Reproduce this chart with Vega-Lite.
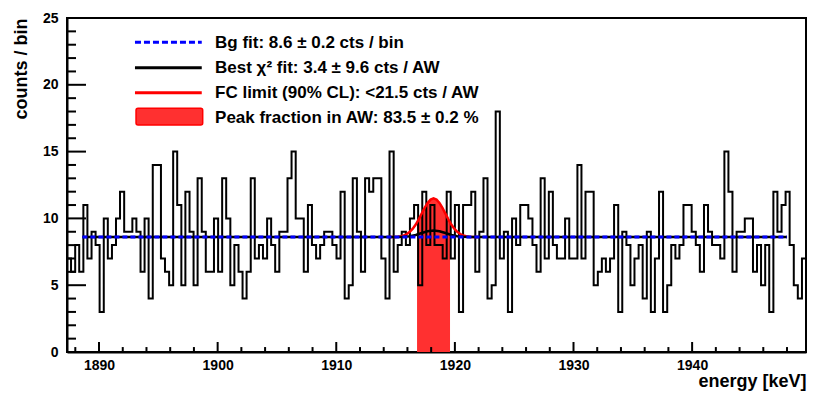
{
  "$schema": "https://vega.github.io/schema/vega-lite/v6.json",
  "width": 739,
  "height": 334,
  "autosize": {"type": "none"},
  "padding": {"left": 67, "top": 18, "right": 16, "bottom": 41},
  "background": "white",
  "config": {
    "view": {"stroke": "black", "strokeWidth": 2},
    "font": "Liberation Sans",
    "axis": {
      "grid": false,
      "domainColor": "black",
      "domainWidth": 2,
      "labelFont": "Liberation Sans",
      "labelFontWeight": "bold",
      "labelFontSize": 14,
      "labelColor": "black",
      "labelOverlap": false,
      "labelFlush": false,
      "titleFont": "Liberation Sans",
      "titleFontWeight": "bold",
      "titleFontSize": 18,
      "titleColor": "black"
    },
    "text": {"font": "Liberation Sans", "fontWeight": "bold", "fontSize": 17, "align": "left", "baseline": "alphabetic", "color": "black"}
  },
  "resolve": {"axis": {"x": "independent", "y": "independent"}},
  "datasets": {
    "hist": [
      {"e":1887.30,"c":7},{"e":1887.64,"c":6},{"e":1887.99,"c":8},{"e":1888.33,"c":6},{"e":1888.68,"c":11},{"e":1889.02,"c":7},{"e":1889.37,"c":9},{"e":1889.71,"c":8},{"e":1890.05,"c":3},{"e":1890.40,"c":10},{"e":1890.74,"c":7},{"e":1891.09,"c":8},{"e":1891.43,"c":10},{"e":1891.77,"c":12},{"e":1892.12,"c":9},{"e":1892.46,"c":9},{"e":1892.81,"c":10},{"e":1893.15,"c":9},
      {"e":1893.50,"c":6},{"e":1893.84,"c":10},{"e":1894.18,"c":4},{"e":1894.53,"c":14},{"e":1894.87,"c":14},{"e":1895.22,"c":7},{"e":1895.56,"c":6},{"e":1895.91,"c":5},{"e":1896.25,"c":15},{"e":1896.59,"c":11},{"e":1896.94,"c":5},{"e":1897.28,"c":12},{"e":1897.63,"c":9},{"e":1897.97,"c":5},{"e":1898.31,"c":13},{"e":1898.66,"c":9},{"e":1899.00,"c":6},{"e":1899.35,"c":6},
      {"e":1899.69,"c":10},{"e":1900.04,"c":6},{"e":1900.38,"c":13},{"e":1900.72,"c":10},{"e":1901.07,"c":5},{"e":1901.41,"c":8},{"e":1901.76,"c":6},{"e":1902.10,"c":4},{"e":1902.44,"c":6},{"e":1902.79,"c":13},{"e":1903.13,"c":7},{"e":1903.48,"c":8},{"e":1903.82,"c":7},{"e":1904.17,"c":10},{"e":1904.51,"c":8},{"e":1904.85,"c":6},{"e":1905.20,"c":9},{"e":1905.54,"c":9},
      {"e":1905.89,"c":13},{"e":1906.23,"c":15},{"e":1906.58,"c":10},{"e":1906.92,"c":10},{"e":1907.26,"c":6},{"e":1907.61,"c":11},{"e":1907.95,"c":8},{"e":1908.30,"c":7},{"e":1908.64,"c":8},{"e":1908.98,"c":9},{"e":1909.33,"c":9},{"e":1909.67,"c":8},{"e":1910.02,"c":7},{"e":1910.36,"c":12},{"e":1910.71,"c":4},{"e":1911.05,"c":5},{"e":1911.39,"c":13},{"e":1911.74,"c":9},
      {"e":1912.08,"c":6},{"e":1912.43,"c":13},{"e":1912.77,"c":12},{"e":1913.12,"c":13},{"e":1913.46,"c":13},{"e":1913.80,"c":7},{"e":1914.15,"c":4},{"e":1914.49,"c":15},{"e":1914.84,"c":6},{"e":1915.18,"c":8},{"e":1915.52,"c":9},{"e":1915.87,"c":8},{"e":1916.21,"c":10},{"e":1916.56,"c":11},{"e":1916.90,"c":5},{"e":1917.25,"c":12},{"e":1917.59,"c":8},{"e":1917.93,"c":11},{"e":1918.28,"c":8},
      {"e":1918.62,"c":8},{"e":1918.97,"c":7},{"e":1919.31,"c":12},{"e":1919.65,"c":7},{"e":1920.00,"c":11},{"e":1920.34,"c":3},{"e":1920.69,"c":11},{"e":1921.03,"c":11},{"e":1921.38,"c":12},{"e":1921.72,"c":6},{"e":1922.06,"c":9},{"e":1922.41,"c":13},{"e":1922.75,"c":4},{"e":1923.10,"c":5},{"e":1923.44,"c":18},{"e":1923.79,"c":7},{"e":1924.13,"c":9},{"e":1924.47,"c":3},
      {"e":1924.82,"c":10},{"e":1925.16,"c":8},{"e":1925.51,"c":11},{"e":1925.85,"c":11},{"e":1926.19,"c":10},{"e":1926.54,"c":8},{"e":1926.88,"c":6},{"e":1927.23,"c":13},{"e":1927.57,"c":7},{"e":1927.92,"c":12},{"e":1928.26,"c":8},{"e":1928.60,"c":7},{"e":1928.95,"c":7},{"e":1929.29,"c":10},{"e":1929.64,"c":7},{"e":1929.98,"c":7},{"e":1930.33,"c":14},{"e":1930.67,"c":7},
      {"e":1931.01,"c":12},{"e":1931.36,"c":12},{"e":1931.70,"c":5},{"e":1932.05,"c":6},{"e":1932.39,"c":7},{"e":1932.73,"c":6},{"e":1933.08,"c":7},{"e":1933.42,"c":11},{"e":1933.77,"c":3},{"e":1934.11,"c":9},{"e":1934.46,"c":8},{"e":1934.80,"c":5},{"e":1935.14,"c":7},{"e":1935.49,"c":8},{"e":1935.83,"c":4},{"e":1936.18,"c":9},{"e":1936.52,"c":3},{"e":1936.86,"c":7},
      {"e":1937.21,"c":12},{"e":1937.55,"c":3},{"e":1937.90,"c":5},{"e":1938.24,"c":8},{"e":1938.59,"c":7},{"e":1938.93,"c":8},{"e":1939.27,"c":11},{"e":1939.62,"c":11},{"e":1939.96,"c":9},{"e":1940.31,"c":8},{"e":1940.65,"c":6},{"e":1941.00,"c":11},{"e":1941.34,"c":9},{"e":1941.68,"c":8},{"e":1942.03,"c":8},{"e":1942.37,"c":7},{"e":1942.72,"c":15},{"e":1943.06,"c":12},{"e":1943.40,"c":6},
      {"e":1943.75,"c":9},{"e":1944.09,"c":9},{"e":1944.44,"c":10},{"e":1944.78,"c":10},{"e":1945.13,"c":6},{"e":1945.47,"c":8},{"e":1945.81,"c":5},{"e":1946.16,"c":8},{"e":1946.50,"c":3},{"e":1946.85,"c":12},{"e":1947.19,"c":9},{"e":1947.54,"c":11},{"e":1947.88,"c":12},{"e":1948.22,"c":8},{"e":1948.57,"c":5},{"e":1948.91,"c":4},{"e":1949.26,"c":7},{"e":1949.60,"c":7}
    ],
    "fc": [
      {"e":1914.45,"c":8.603},{"e":1914.70,"c":8.606},{"e":1914.95,"c":8.615},{"e":1915.20,"c":8.632},{"e":1915.45,"c":8.666},{"e":1915.70,"c":8.727},{"e":1915.95,"c":8.831},{"e":1916.20,"c":8.992},{"e":1916.45,"c":9.227},{"e":1916.70,"c":9.542},{"e":1916.95,"c":9.928},{"e":1917.20,"c":10.359},{"e":1917.45,"c":10.789},{"e":1917.70,"c":11.159},{"e":1917.95,"c":11.411},{"e":1918.20,"c":11.5},{"e":1918.45,"c":11.411},{"e":1918.70,"c":11.159},{"e":1918.95,"c":10.789},{"e":1919.20,"c":10.359},{"e":1919.45,"c":9.928},{"e":1919.70,"c":9.542},{"e":1919.95,"c":9.227},{"e":1920.20,"c":8.992},{"e":1920.45,"c":8.831},{"e":1920.70,"c":8.727},{"e":1920.95,"c":8.666},{"e":1921.20,"c":8.632},{"e":1921.45,"c":8.615},{"e":1921.70,"c":8.606},{"e":1921.95,"c":8.603}
    ],
    "aw": [
      {"e":1916.81,"c":9.70},{"e":1916.95,"c":9.928},{"e":1917.20,"c":10.359},{"e":1917.45,"c":10.789},{"e":1917.70,"c":11.159},{"e":1917.95,"c":11.411},{"e":1918.20,"c":11.5},{"e":1918.45,"c":11.411},{"e":1918.70,"c":11.159},{"e":1918.95,"c":10.789},{"e":1919.20,"c":10.359},{"e":1919.45,"c":9.928},{"e":1919.59,"c":9.70}
    ],
    "best": [
      {"e":1888.60,"c":8.6},{"e":1914.70,"c":8.6},{"e":1915.20,"c":8.606},{"e":1915.70,"c":8.622},{"e":1916.20,"c":8.668},{"e":1916.70,"c":8.762},{"e":1917.20,"c":8.903},{"e":1917.70,"c":9.041},{"e":1918.20,"c":9.1},{"e":1918.70,"c":9.041},{"e":1919.20,"c":8.903},{"e":1919.70,"c":8.762},{"e":1920.20,"c":8.668},{"e":1920.70,"c":8.622},{"e":1921.20,"c":8.606},{"e":1921.70,"c":8.6},{"e":1948.00,"c":8.6}
    ],
    "bg": [
      {"e":1888.60,"c":8.6},{"e":1948.00,"c":8.6}
    ],
    "xmaj": [{"v":1890},{"v":1900},{"v":1910},{"v":1920},{"v":1930},{"v":1940}],
    "xmin": [{"v":1888},{"v":1892},{"v":1894},{"v":1896},{"v":1898},{"v":1902},{"v":1904},{"v":1906},{"v":1908},{"v":1912},{"v":1914},{"v":1916},{"v":1918},{"v":1922},{"v":1924},{"v":1926},{"v":1928},{"v":1932},{"v":1934},{"v":1936},{"v":1938},{"v":1942},{"v":1944},{"v":1946},{"v":1948}],
    "ymaj": [{"v":5},{"v":10},{"v":15},{"v":20}],
    "ymin": [{"v":1},{"v":2},{"v":3},{"v":4},{"v":6},{"v":7},{"v":8},{"v":9},{"v":11},{"v":12},{"v":13},{"v":14},{"v":16},{"v":17},{"v":18},{"v":19},{"v":21},{"v":22},{"v":23},{"v":24}]
  },
  "layer": [
    {
      "data": {"name": "aw"},
      "mark": {"type": "area", "color": "#ff3030", "opacity": 1, "interpolate": "linear"},
      "encoding": {
        "x": {"field": "e", "type": "quantitative", "axis": null},
        "y": {"field": "c", "type": "quantitative", "axis": null}
      }
    },
    {
      "data": {"name": "xmaj"},
      "mark": {"type": "rule", "color": "black", "strokeWidth": 2},
      "encoding": {
        "x": {"field": "v", "type": "quantitative", "axis": null},
        "y": {"datum": 0, "type": "quantitative", "axis": null},
        "y2": {"datum": 0.75}
      }
    },
    {
      "data": {"name": "xmin"},
      "mark": {"type": "rule", "color": "black", "strokeWidth": 2},
      "encoding": {
        "x": {"field": "v", "type": "quantitative", "axis": null},
        "y": {"datum": 0, "type": "quantitative", "axis": null},
        "y2": {"datum": 0.37}
      }
    },
    {
      "data": {"name": "ymaj"},
      "mark": {"type": "rule", "color": "black", "strokeWidth": 2},
      "encoding": {
        "y": {"field": "v", "type": "quantitative", "axis": null},
        "x": {"datum": 1887.3, "type": "quantitative", "axis": null},
        "x2": {"datum": 1888.9}
      }
    },
    {
      "data": {"name": "ymin"},
      "mark": {"type": "rule", "color": "black", "strokeWidth": 2},
      "encoding": {
        "y": {"field": "v", "type": "quantitative", "axis": null},
        "x": {"datum": 1887.3, "type": "quantitative", "axis": null},
        "x2": {"datum": 1888.06}
      }
    },
    {
      "data": {"name": "hist"},
      "mark": {"type": "line", "interpolate": "step-after", "color": "black", "strokeWidth": 2, "clip": true},
      "encoding": {
        "x": {
          "field": "e", "type": "quantitative",
          "scale": {"domain": [1887.3, 1949.6], "nice": false, "zero": false},
          "axis": {
            "title": "energy [keV]",
            "orient": "bottom",
            "values": [1890, 1900, 1910, 1920, 1930, 1940],
            "format": "d",
            "ticks": false,
            "labelPadding": 6,
            "titleAnchor": "end",
            "titlePadding": 0
          }
        },
        "y": {
          "field": "c", "type": "quantitative",
          "scale": {"domain": [0, 25], "nice": false, "zero": true},
          "axis": {
            "title": "counts / bin",
            "orient": "left",
            "values": [0, 5, 10, 15, 20, 25],
            "format": "d",
            "ticks": false,
            "labelPadding": 9,
            "titleAnchor": "end",
            "titlePadding": 12
          }
        }
      }
    },
    {
      "data": {"name": "fc"},
      "mark": {"type": "line", "color": "#ff0000", "strokeWidth": 2.5},
      "encoding": {
        "x": {"field": "e", "type": "quantitative", "axis": null},
        "y": {"field": "c", "type": "quantitative", "axis": null}
      }
    },
    {
      "data": {"name": "best"},
      "mark": {"type": "line", "color": "black", "strokeWidth": 2.5},
      "encoding": {
        "x": {"field": "e", "type": "quantitative", "axis": null},
        "y": {"field": "c", "type": "quantitative", "axis": null}
      }
    },
    {
      "data": {"name": "bg"},
      "mark": {"type": "line", "color": "#0000ff", "strokeWidth": 3, "strokeDash": [5, 3]},
      "encoding": {
        "x": {"field": "e", "type": "quantitative", "axis": null},
        "y": {"field": "c", "type": "quantitative", "axis": null}
      }
    },
    {
      "data": {"values": [{}]},
      "mark": {"type": "rule", "color": "#0000ff", "strokeWidth": 3, "strokeDash": [6, 3]},
      "encoding": {
        "x": {"datum": 1893.03, "type": "quantitative", "axis": null},
        "x2": {"datum": 1898.66},
        "y": {"datum": 23.18, "type": "quantitative", "axis": null}
      }
    },
    {
      "data": {"values": [{}]},
      "mark": {"type": "rule", "color": "black", "strokeWidth": 3},
      "encoding": {
        "x": {"datum": 1893.03, "type": "quantitative", "axis": null},
        "x2": {"datum": 1898.66},
        "y": {"datum": 21.28, "type": "quantitative", "axis": null}
      }
    },
    {
      "data": {"values": [{}]},
      "mark": {"type": "rule", "color": "#ff0000", "strokeWidth": 3},
      "encoding": {
        "x": {"datum": 1893.03, "type": "quantitative", "axis": null},
        "x2": {"datum": 1898.66},
        "y": {"datum": 19.41, "type": "quantitative", "axis": null}
      }
    },
    {
      "data": {"values": [{}]},
      "mark": {"type": "rect", "fill": "#ff3030", "stroke": "#ff0000", "strokeWidth": 1.5, "cornerRadius": 2},
      "encoding": {
        "x": {"datum": 1893.12, "type": "quantitative", "axis": null},
        "x2": {"datum": 1898.74},
        "y": {"datum": 18.24, "type": "quantitative", "axis": null},
        "y2": {"datum": 16.99}
      }
    },
    {
      "data": {"values": [{"label": "Bg fit: 8.6 ± 0.2 cts / bin"}]},
      "mark": {"type": "text"},
      "encoding": {
        "x": {"datum": 1899.78, "type": "quantitative", "axis": null},
        "y": {"datum": 22.73, "type": "quantitative", "axis": null},
        "text": {"field": "label"}
      }
    },
    {
      "data": {"values": [{"label": "Best χ² fit: 3.4 ± 9.6 cts / AW"}]},
      "mark": {"type": "text"},
      "encoding": {
        "x": {"datum": 1899.78, "type": "quantitative", "axis": null},
        "y": {"datum": 20.85, "type": "quantitative", "axis": null},
        "text": {"field": "label"}
      }
    },
    {
      "data": {"values": [{"label": "FC limit (90% CL): <21.5 cts / AW"}]},
      "mark": {"type": "text"},
      "encoding": {
        "x": {"datum": 1899.78, "type": "quantitative", "axis": null},
        "y": {"datum": 18.99, "type": "quantitative", "axis": null},
        "text": {"field": "label"}
      }
    },
    {
      "data": {"values": [{"label": "Peak fraction in AW: 83.5 ± 0.2 %"}]},
      "mark": {"type": "text"},
      "encoding": {
        "x": {"datum": 1899.78, "type": "quantitative", "axis": null},
        "y": {"datum": 17.14, "type": "quantitative", "axis": null},
        "text": {"field": "label"}
      }
    }
  ]
}
